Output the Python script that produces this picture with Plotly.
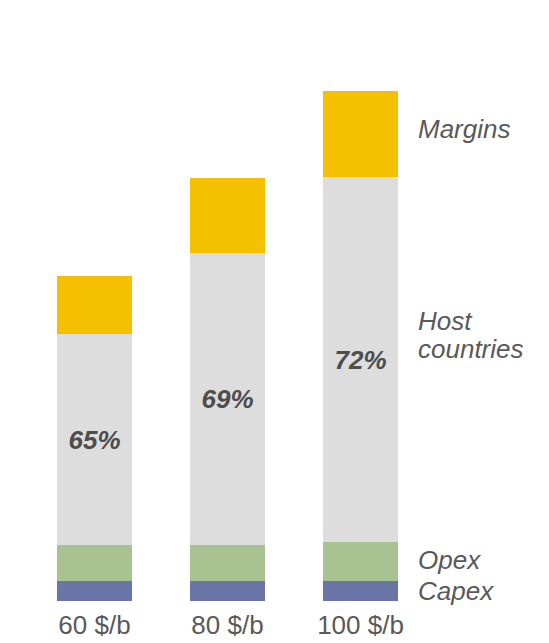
import plotly.graph_objects as go

# values (arbitrary $/b-like units)
prices = ["60 $/b", "80 $/b", "100 $/b"]
capex = [3.9, 3.9, 3.9]
opex = [7.0, 7.0, 7.6]
host = [41.3, 57.3, 71.4]
margins = [11.4, 14.5, 17.0]
host_share = ["65%", "69%", "72%"]

series_labels = [("Margins", 92.4), ("Host", 54.9), ("countries", 49.3), ("Opex", 8.0), ("Capex", 2.0)]

FONT = "Arial, Liberation Sans, sans-serif"
GREY = "#595959"

fig = go.Figure()
fig.add_trace(go.Bar(x=prices, y=capex, marker_color="#6875a5", name="Capex"))
fig.add_trace(go.Bar(x=prices, y=opex, marker_color="#a8c391", name="Opex"))
fig.add_trace(go.Bar(
    x=prices, y=host, marker_color="#dddddd", name="Host countries",
    text=host_share, textposition="inside", insidetextanchor="middle", textangle=0,
    textfont=dict(family=FONT, size=26, color="#4d4d4d", weight="bold", style="italic"),
))
fig.add_trace(go.Bar(x=prices, y=margins, marker_color="#f5c000", name="Margins"))
fig.update_traces(marker_line_width=0)

for label, yv in series_labels:
    fig.add_annotation(
        x=2.42, y=yv, xref="x", yref="y", text=label, showarrow=False,
        xanchor="left", yanchor="middle", align="left",
        font=dict(family=FONT, size=26, color=GREY, style="italic"),
    )

fig.update_layout(
    barmode="stack",
    bargap=0.44,
    showlegend=False,
    width=549, height=643,
    margin=dict(l=20, r=130, t=31, b=50),
    plot_bgcolor="white", paper_bgcolor="white",
    font=dict(family=FONT, color=GREY),
)
fig.update_xaxes(range=[-0.5, 2.5], autorange=False, showline=False, ticks="",
                 ticklabelstandoff=6, tickfont=dict(size=26, color=GREY))
fig.update_yaxes(range=[0, 110], autorange=False, visible=False, showgrid=False, zeroline=False)

fig.write_html("out.html")
